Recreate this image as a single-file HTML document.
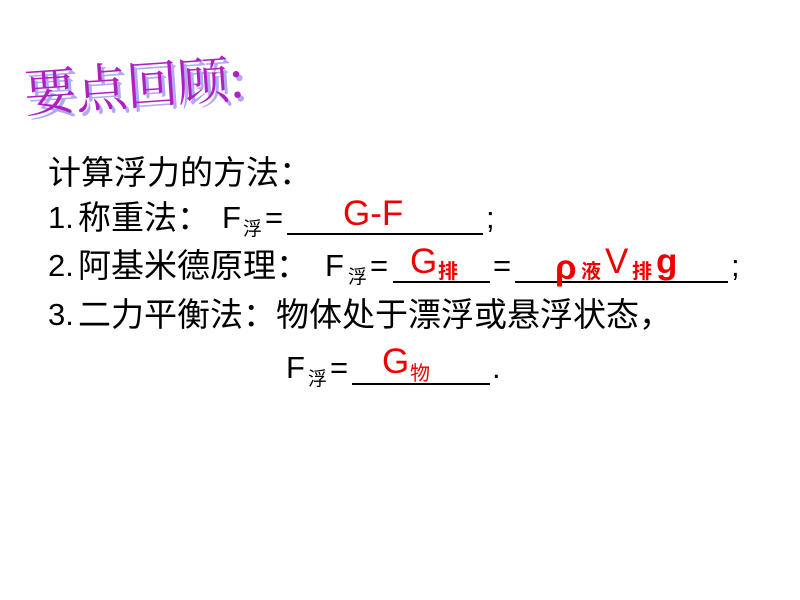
<!DOCTYPE html>
<html><head><meta charset="utf-8"><style>
body{margin:0;width:800px;height:600px;background:#fff;position:relative;overflow:hidden;font-family:"Liberation Sans","Noto Sans CJK SC",sans-serif;}
.a{position:absolute;white-space:nowrap;line-height:1;}
.t{font-size:31px;color:#000;}
.c{font-size:33px;color:#000;}
.s{font-size:19px;color:#000;}
.r{color:#e00;}
.u{position:absolute;height:0;border-top:2px solid #000;}
.title{position:absolute;left:26px;top:64px;font-size:52px;line-height:1;color:#b020c0;font-family:"Noto Serif CJK SC","Liberation Serif",serif;text-shadow:3px 4px 0 #b0a8f0;transform:rotate(-4deg);transform-origin:left bottom;letter-spacing:-1px;}
</style></head><body>
<div class="title">要点回顾:</div>

<div class="a c" style="left:48px;top:156px;">计算浮力的方法：</div>

<div class="a t" style="left:48px;top:202px;">1.</div>
<div class="a c" style="left:78px;top:201px;">称重法：</div>
<div class="a t" style="left:222px;top:202px;">F</div>
<div class="a s" style="left:243px;top:220px;">浮</div>
<div class="a t" style="left:265px;top:202px;">=</div>
<div class="u" style="left:287px;top:233px;width:196px;"></div>
<div class="a t" style="left:486px;top:202px;">;</div>
<div class="a r" style="left:343px;top:196px;font-size:35px;">G-F</div>

<div class="a t" style="left:48px;top:250px;">2.</div>
<div class="a c" style="left:78px;top:249px;">阿基米德原理：</div>
<div class="a t" style="left:325px;top:250px;">F</div>
<div class="a s" style="left:348px;top:268px;">浮</div>
<div class="a t" style="left:370px;top:250px;">=</div>
<div class="u" style="left:393px;top:281px;width:97px;"></div>
<div class="a t" style="left:493px;top:250px;">=</div>
<div class="u" style="left:515px;top:281px;width:213px;"></div>
<div class="a t" style="left:731px;top:250px;">;</div>
<div class="a r" style="left:410px;top:244px;font-size:35px;">G</div>
<div class="a r" style="left:438px;top:262px;font-size:20px;font-weight:bold;">排</div>
<div class="a r" style="left:555px;top:250px;font-size:35px;font-weight:bold;">ρ</div>
<div class="a r" style="left:581px;top:262px;font-size:20px;font-weight:bold;">液</div>
<div class="a r" style="left:605px;top:244px;font-size:35px;">V</div>
<div class="a r" style="left:632px;top:262px;font-size:20px;font-weight:bold;">排</div>
<div class="a r" style="left:656px;top:244px;font-size:35px;font-weight:bold;">g</div>

<div class="a t" style="left:48px;top:299px;">3.</div>
<div class="a c" style="left:78px;top:298px;">二力平衡法：物体处于漂浮或悬浮状态，</div>

<div class="a t" style="left:286px;top:352px;">F</div>
<div class="a s" style="left:308px;top:370px;">浮</div>
<div class="a t" style="left:330px;top:352px;">=</div>
<div class="u" style="left:352px;top:383px;width:138px;"></div>
<div class="a t" style="left:492px;top:352px;">.</div>
<div class="a r" style="left:382px;top:344px;font-size:35px;">G</div>
<div class="a r" style="left:410px;top:364px;font-size:20px;">物</div>
</body></html>
